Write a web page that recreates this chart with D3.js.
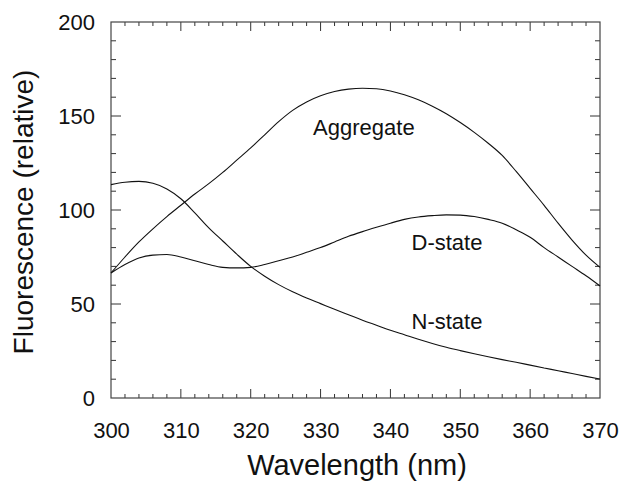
<!DOCTYPE html>
<html>
<head>
<meta charset="utf-8">
<script src="https://cdn.jsdelivr.net/npm/d3@7"></script>
<style>
  body { margin: 0; background: white; }
  svg text { font-family: "Liberation Sans", Arial, Helvetica, sans-serif; fill: #111; }
</style>
</head>
<body>
<div id="chartdiv"></div>
<script>
// wavelengths (nm), one reading every 2 nm
const wavelengths = d3.range(300, 371, 2);

const aggregate = [66.5, 75, 83, 90, 96.5, 102.5, 108.5, 114, 120, 126.5,
  133, 140, 147, 153, 157.5, 160.8, 163, 164.3, 164.8, 164.5,
  163.3, 161.3, 158.6, 155.2, 151.2, 146.5, 141.3, 135.5, 129, 120.5,
  111.5, 102.5, 93, 84, 76, 69.5];

const dstate = [66.5, 71, 74.5, 76, 76.3, 75, 73, 71, 69.5, 69.2,
  69.5, 71, 73, 75, 77.5, 80, 83, 86, 88.5, 90.8,
  93, 95, 96.3, 97, 97.4, 97.3, 96.5, 95, 93, 89.5,
  85.5, 80, 75, 70, 65, 59.6];

const nstate = [113.5, 114.8, 115.2, 114.2, 111.2, 106, 98.5, 90.5, 83.5, 76.5,
  70, 64.8, 60.3, 56.5, 53.2, 50.2, 47.2, 44.3, 41.4, 38.7,
  36, 33.6, 31.2, 29, 27, 25.2, 23.5, 21.9, 20.4, 19,
  17.5, 16, 14.5, 13, 11.5, 10.1];

const xTicks = [300, 310, 320, 330, 340, 350, 360, 370];
const yTicks = [0, 50, 100, 150, 200];

const curveLabels = [
  {name: "Aggregate", x: 336.2, y: 140},
  {name: "D-state", x: 348.1, y: 78.5},
  {name: "N-state", x: 348.1, y: 36.5}
];

let margin = {top: 22, bottom: 86, left: 111, right: 24};
let svgwidth = 624, svgheight = 484;
let width = svgwidth - margin.left - margin.right;
let height = svgheight - margin.top - margin.bottom;

let svg = d3.select("#chartdiv")
            .append("svg")
            .attr("width", svgwidth)
            .attr("height", svgheight);

let g = svg.append("g")
           .attr("transform", `translate(${margin.left}, ${margin.top})`);

let xscale = d3.scaleLinear().domain([300, 370]).range([0, width]);
let yscale = d3.scaleLinear().domain([0, 200]).range([height, 0]);

// every tick mark on the frame: x every 2 nm, y every 10 units
let xAll = d3.range(302, 370, 2).map(v => ({v: v, len: v % 10 == 0 ? 9 : 4}));
let yAll = d3.range(10, 200, 10).map(v => ({v: v, len: v % 50 == 0 ? 10 : 5}));

let tickg = g.append("g").attr("stroke", "#333").attr("stroke-width", 1);

tickg.selectAll(".xtickb")
  .data(xAll).enter().append("line")
  .attr("x1", d => xscale(d.v)).attr("x2", d => xscale(d.v))
  .attr("y1", height).attr("y2", d => height - d.len);

tickg.selectAll(".xtickt")
  .data(xAll).enter().append("line")
  .attr("x1", d => xscale(d.v)).attr("x2", d => xscale(d.v))
  .attr("y1", 0).attr("y2", d => d.len);

tickg.selectAll(".ytickl")
  .data(yAll).enter().append("line")
  .attr("y1", d => yscale(d.v)).attr("y2", d => yscale(d.v))
  .attr("x1", 0).attr("x2", d => d.len);

tickg.selectAll(".ytickr")
  .data(yAll).enter().append("line")
  .attr("y1", d => yscale(d.v)).attr("y2", d => yscale(d.v))
  .attr("x1", width).attr("x2", d => width - d.len);

// frame
g.append("rect")
  .attr("width", width)
  .attr("height", height)
  .attr("fill", "none")
  .attr("stroke", "#444")
  .attr("stroke-width", 1.2);

// tick labels through the d3 axes, their own lines hidden
let x_axis = g.append("g")
              .attr("class", "xaxis")
              .attr("transform", `translate(0, ${height})`)
              .call(d3.axisBottom(xscale)
                      .tickValues(xTicks)
                      .tickSize(0)
                      .tickPadding(24));

let y_axis = g.append("g")
              .attr("class", "yaxis")
              .call(d3.axisLeft(yscale)
                      .tickValues(yTicks)
                      .tickSize(0)
                      .tickPadding(16));

g.selectAll(".xaxis .domain, .yaxis .domain").remove();
g.selectAll(".xaxis text, .yaxis text")
  .style("font-size", "22px")
  .attr("fill", "#111");

// curves
let line = d3.line()
             .x((d, i) => xscale(wavelengths[i]))
             .y(d => yscale(d))
             .curve(d3.curveMonotoneX);

[aggregate, dstate, nstate].forEach(function(series){
  g.append("path")
    .datum(series)
    .attr("fill", "none")
    .attr("stroke", "#111")
    .attr("stroke-width", 1.1)
    .attr("d", line);
});

g.selectAll(".curvelabel")
  .data(curveLabels)
  .enter()
  .append("text")
  .attr("class", "curvelabel")
  .attr("x", d => xscale(d.x))
  .attr("y", d => yscale(d.y))
  .style("text-anchor", "middle")
  .style("font-size", "22px")
  .text(d => d.name);

// axis titles
g.append("text")
  .attr("x", width / 2 + 1.5)
  .attr("y", height + 77)
  .style("text-anchor", "middle")
  .style("font-size", "29px")
  .text("Wavelength (nm)");

g.append("text")
  .attr("transform", `translate(${33 - margin.left}, ${212 - margin.top}) rotate(-90)`)
  .style("text-anchor", "middle")
  .style("font-size", "28px")
  .text("Fluorescence (relative)");
</script>
</body>
</html>
